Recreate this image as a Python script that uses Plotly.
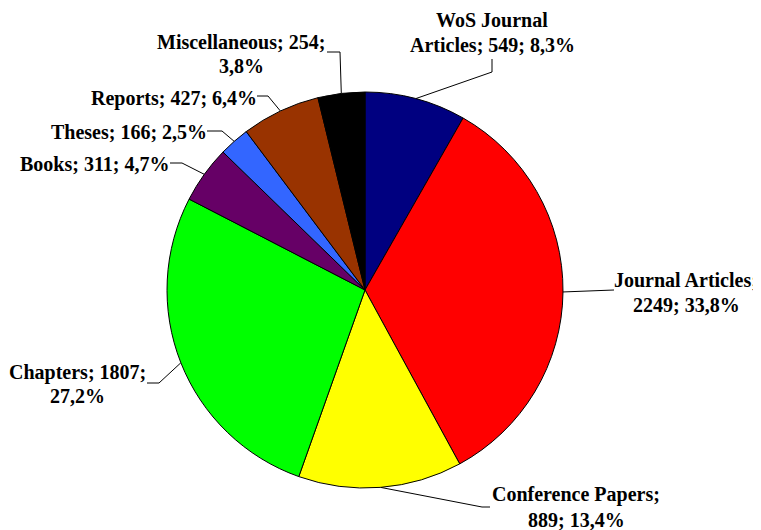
import math
import plotly.graph_objects as go

# ---- data ----
categories = ["WoS Journal Articles", "Journal Articles", "Conference Papers", "Chapters",
              "Books", "Theses", "Reports", "Miscellaneous"]
values = [549, 2249, 889, 1807, 311, 166, 427, 254]
percent_labels = ["8,3%", "33,8%", "13,4%", "27,2%", "4,7%", "2,5%", "6,4%", "3,8%"]

# ---- style ----
colors = ["#000080", "#FF0000", "#FFFF00", "#00FF00", "#660066", "#3366FF", "#993300", "#000000"]
OFF = 8                      # page body margin
W, H = 761 - OFF, 530 - OFF  # figure size
CX, CY, R = 365, 290, 198    # pie centre/radius in page px

# label text layout: (lines, centre x, first line y, line spacing, leader polyline start points)
label_layout = [
    (["WoS Journal", "Articles; {v}; {p}"], 492, 20, 25, [(492, 59), (492, 72)]),
    (["Journal Articles;", "{v}; {p}"], 686, 280, 25, [(614, 290)]),
    (["Conference Papers;", "{v}; {p}"], 576, 494, 26, [(490, 507), (482, 507)]),
    (["Chapters; {v};", "{p}"], 77, 372, 24, [(147, 383), (159, 383)]),
    (["Books; {v}; {p}"], 94, 164, 0, [(170, 163), (182, 163)]),
    (["Theses; {v}; {p}"], 129, 132, 0, [(207, 131), (222, 131)]),
    (["Reports; {v}; {p}"], 174, 98, 0, [(257, 96), (268, 96)]),
    (["Miscellaneous; {v};", "{p}"], 241, 42, 24, [(327, 52), (340, 52)]),
]


def px(x):
    return (x - OFF) / W


def py(y):
    return 1 - (y - OFF) / H


fig = go.Figure(go.Pie(
    labels=categories,
    values=values,
    sort=False,
    direction="clockwise",
    rotation=0,
    marker=dict(colors=colors, line=dict(color="black", width=1)),
    textinfo="none",
    hoverinfo="label+value+percent",
    showlegend=False,
    domain=dict(x=[px(CX - R), px(CX + R)], y=[py(CY + R), py(CY - R)]),
))

total = sum(values)
annotations = []
shapes = []
cum = 0
font = dict(family="Liberation Serif, Times New Roman, serif", size=20, color="black")
for i, (v, p) in enumerate(zip(values, percent_labels)):
    mid = (cum + v / 2) / total * 2 * math.pi
    cum += v
    ex = CX + R * math.sin(mid)
    ey = CY - R * math.cos(mid)
    lines, tx, ty, sp, pts = label_layout[i]
    for k, ln in enumerate(lines):
        annotations.append(dict(
            x=px(tx), y=py(ty + k * sp), xref="paper", yref="paper",
            text="<b>" + ln.format(v=v, p=p) + "</b>", showarrow=False,
            xanchor="center", yanchor="middle", font=font))
    allp = pts + [(ex, ey)]
    path = "M " + " L ".join(f"{px(x)},{py(y)}" for x, y in allp)
    shapes.append(dict(type="path", xref="paper", yref="paper", path=path,
                       line=dict(color="black", width=1)))

fig.update_layout(
    width=W, height=H,
    margin=dict(l=0, r=0, t=0, b=0),
    paper_bgcolor="white", plot_bgcolor="white",
    annotations=annotations, shapes=shapes,
)
fig.write_html("out.html")
